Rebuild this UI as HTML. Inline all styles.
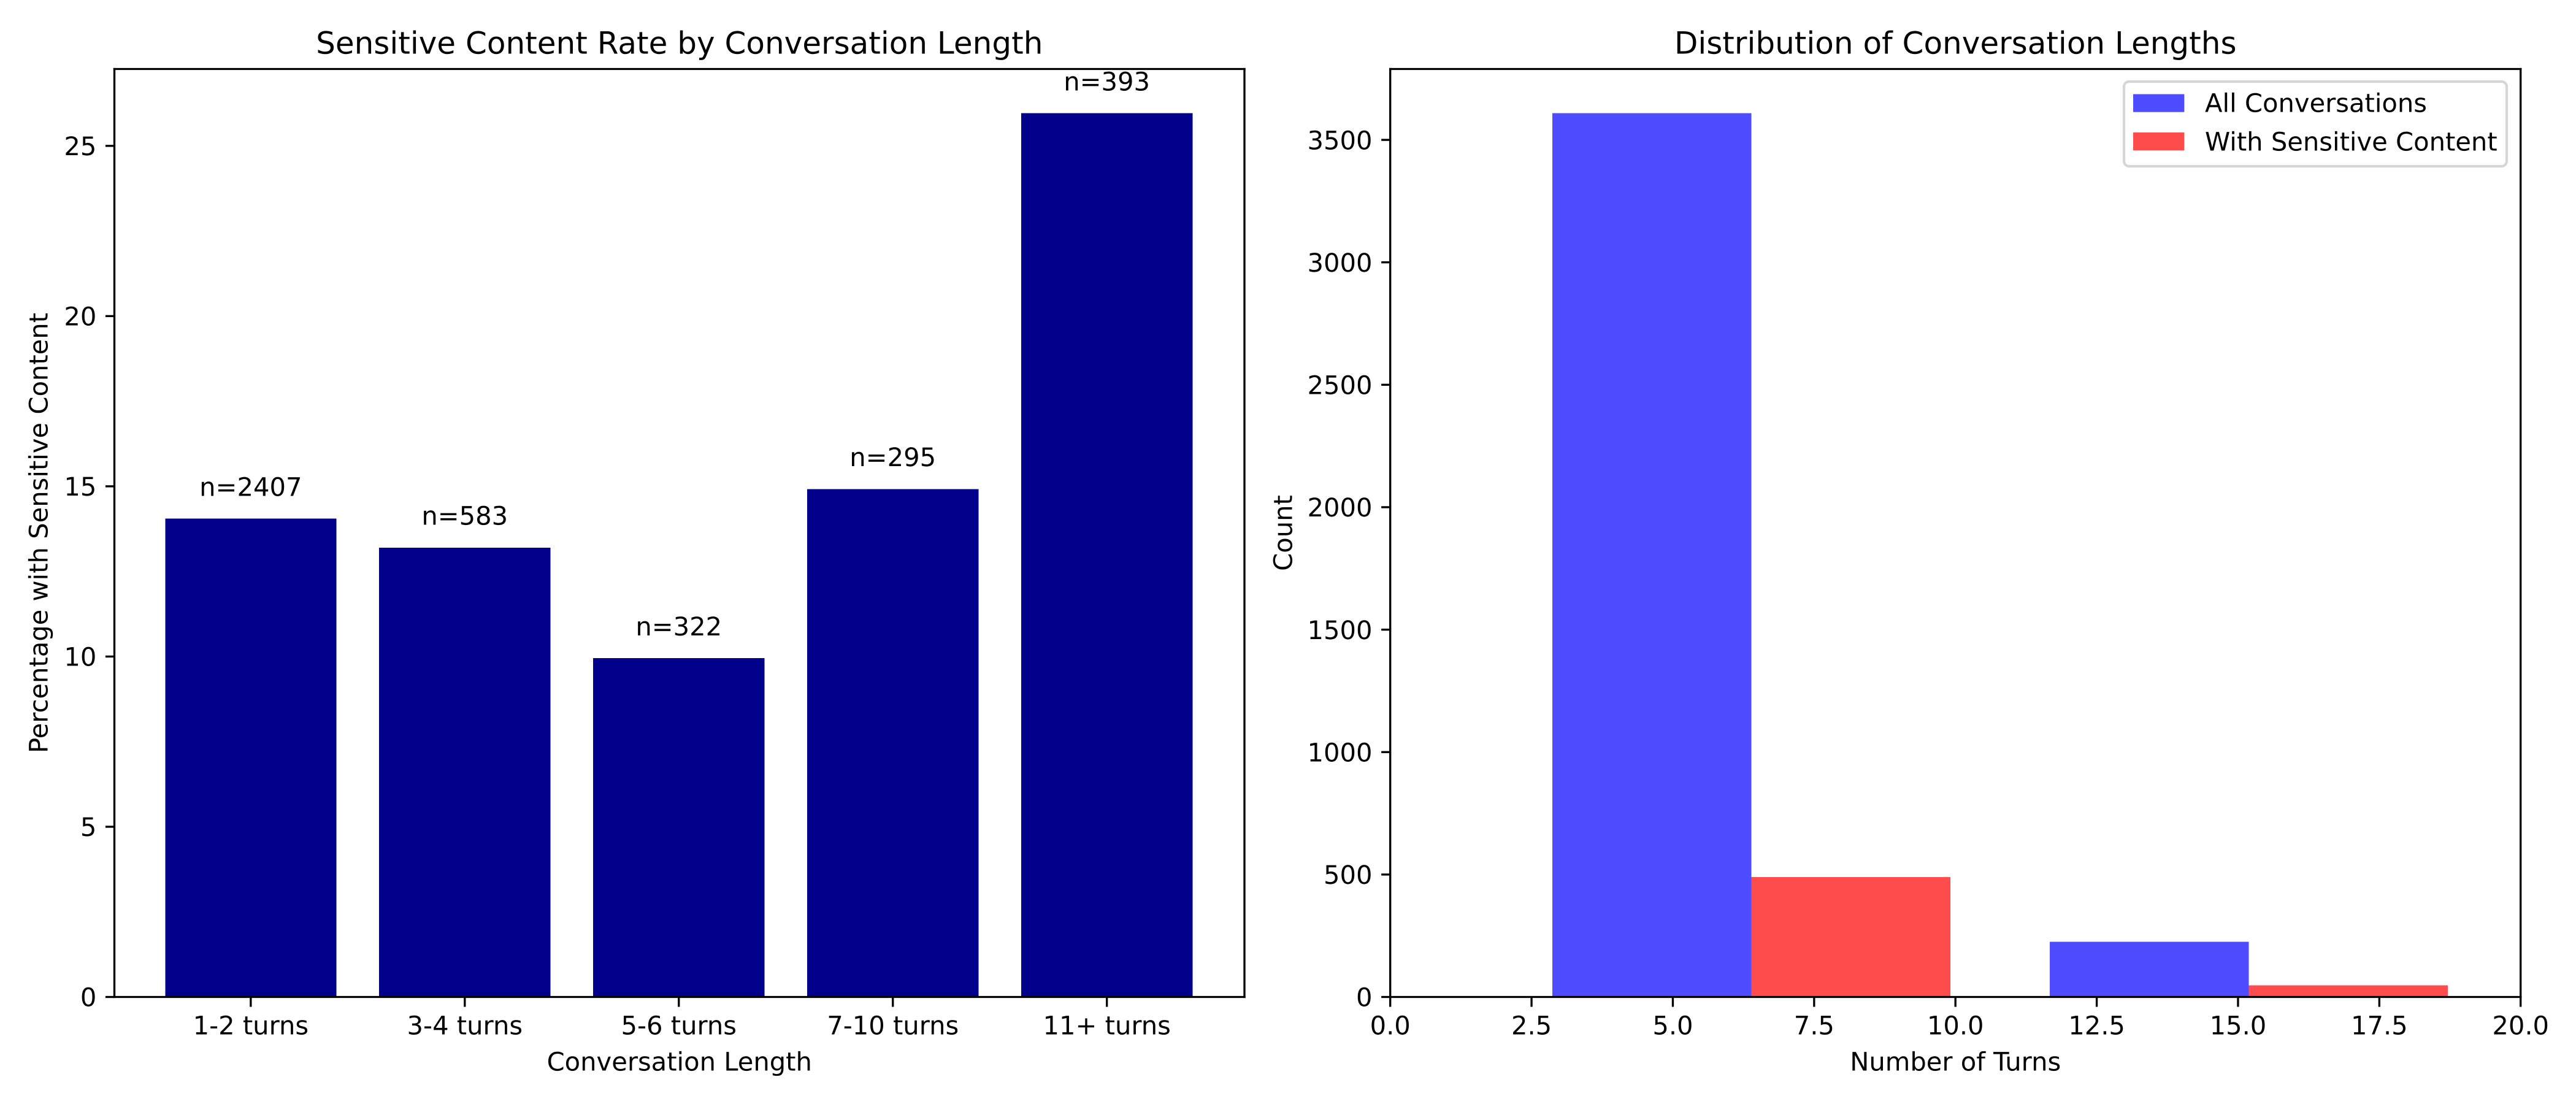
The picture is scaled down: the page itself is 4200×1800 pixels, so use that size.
<!DOCTYPE html>
<html lang="en">
<head>
<meta charset="utf-8">
<title>Sensitive Content Rate and Conversation Length Distribution</title>
<style>
  html, body { margin: 0; padding: 0; background: #ffffff; }
  body { width: 4200px; height: 1800px; overflow: hidden; }
  svg { display: block; }
  text { font-family: "DejaVu Sans", "Liberation Sans", sans-serif; font-size: 41.667px; fill: #000000; text-rendering: geometricPrecision; }
  .title { font-size: 50px; }
  .bar { shape-rendering: crispEdges; }
</style>
</head>
<body>
<svg id="figure" xmlns="http://www.w3.org/2000/svg" width="4200" height="1800" viewBox="0 0 4200 1800">
  <rect x="0" y="0" width="4200" height="1800" fill="#ffffff"/>
  <g id="left-chart"></g>
  <g id="right-chart"></g>
</svg>
<script>
// ---- Left chart data ----
const rateCategories = ['1-2 turns', '3-4 turns', '5-6 turns', '7-10 turns', '11+ turns'];
const rateValues = [14.05, 13.2, 9.95, 14.92, 25.96];
const rateCounts = [2407, 583, 322, 295, 393];
const rateTicks = [0, 5, 10, 15, 20, 25];

// ---- Right chart data ----
const allBinStarts = [2.87, 11.67];
const allCounts = [3609, 225];
const sensitiveBinStarts = [6.39, 15.19];
const sensitiveCounts = [490, 48];
const binWidths = [3.52];
const turnTicks = [0, 2.5, 5, 7.5, 10, 12.5, 15, 17.5, 20];
const turnTickLabels = ['0.0', '2.5', '5.0', '7.5', '10.0', '12.5', '15.0', '17.5', '20.0'];
const countTicks = [0, 500, 1000, 1500, 2000, 2500, 3000, 3500];

// ---- Layout ----
const NS = 'http://www.w3.org/2000/svg';
const plotTop = 112.5, plotBottom = 1625.5;
const leftX0 = 186.5, leftX1 = 2029;
const leftMapX0 = 185.5, leftMapX1 = 2028;
const rightX0 = 2266.7, rightX1 = 4109.7;
const SPINE = 3.33, TICK = 14.58, PAD = 14.58;
const NAVY = '#00008b', BLUE = '#4d4dff', RED = '#ff4d4d';

const rateMax = Math.max(...rateValues) * 1.05;
const countMax = Math.max(...allCounts, ...sensitiveCounts) * 1.05;
const barMin = -0.4, barMax = rateCategories.length - 1 + 0.4;
const barMargin = (barMax - barMin) * 0.05;

function xLeft(v) { return leftMapX0 + (v - (barMin - barMargin)) / ((barMax - barMin) + 2 * barMargin) * (leftMapX1 - leftMapX0); }
function yLeft(v) { return plotBottom - v / rateMax * (plotBottom - plotTop); }
function xRight(v) { return rightX0 + v / 20 * (rightX1 - rightX0); }
function yRight(v) { return plotBottom - v / countMax * (plotBottom - plotTop); }

function mk(parent, tag, attrs, text) {
  const el = document.createElementNS(NS, tag);
  for (const k in attrs) el.setAttribute(k, attrs[k]);
  if (text !== undefined) el.textContent = text;
  parent.appendChild(el);
  return el;
}
function hLine(parent, x1, x2, y) {
  return mk(parent, 'line', { x1: x1, x2: x2, y1: y, y2: y, stroke: '#000', 'stroke-width': SPINE });
}
function vLine(parent, x, y1, y2) {
  return mk(parent, 'line', { x1: x, x2: x, y1: y1, y2: y2, stroke: '#000', 'stroke-width': SPINE });
}
function drawFrame(parent, x0, x1) {
  const half = SPINE / 2;
  let el;
  el = vLine(parent, x0, plotTop - half, plotBottom + half);
  
  
  el = vLine(parent, x1, plotTop - half, plotBottom + half);
  
  
  el = hLine(parent, x0 - half, x1 + half, plotTop);
  
  
  el = hLine(parent, x0 - half, x1 + half, plotBottom);
  
  
}
function drawYTick(parent, x0, y, label) {
  let el = hLine(parent, x0 - TICK, x0, y);
  
  
  el = mk(parent, 'text', { x: x0 - TICK - PAD, y: y + 15.2, 'text-anchor': 'end' }, label);
  
  
}
function drawXTick(parent, x, label) {
  let el = vLine(parent, x, plotBottom, plotBottom + TICK + 1.5);
  
  
  el = mk(parent, 'text', { x: x, y: 1686.5, 'text-anchor': 'middle' }, label);
  
  
}

// ---- Left chart ----
const left = document.getElementById('left-chart');
rateValues.forEach(function (v, i) {
  const bar = mk(left, 'rect', {
    class: 'bar',
    x: xLeft(i - 0.4), y: yLeft(v),
    width: xLeft(i + 0.4) - xLeft(i - 0.4), height: yLeft(0) - yLeft(v),
    fill: NAVY
  });
  
  
  const lab = mk(left, 'text', { x: xLeft(i), y: yLeft(v + 0.5) - 9.4, 'text-anchor': 'middle' }, 'n=' + rateCounts[i]);
  
  
});
drawFrame(left, leftX0, leftX1);
rateTicks.forEach(function (t) { drawYTick(left, leftX0, yLeft(t), String(t)); });
rateCategories.forEach(function (c, i) { drawXTick(left, xLeft(i), c); });

const leftCenter = (leftX0 + leftX1) / 2;
const plotMiddle = (plotTop + plotBottom) / 2;
const leftTitle = mk(left, 'text', { class: 'title', x: leftCenter, y: 87.3, 'text-anchor': 'middle' }, 'Sensitive Content Rate by Conversation Length');


const leftXLabel = mk(left, 'text', { x: leftCenter, y: 1745.5, 'text-anchor': 'middle' }, 'Conversation Length');


const leftYLabel = mk(left, 'text', { x: 0, y: 0, 'text-anchor': 'middle', transform: 'translate(77.5 ' + plotMiddle + ') rotate(-90)' }, 'Percentage with Sensitive Content');



// ---- Right chart ----
const right = document.getElementById('right-chart');
allCounts.forEach(function (v, i) {
  const bar = mk(right, 'rect', {
    class: 'bar',
    x: xRight(allBinStarts[i]), y: yRight(v),
    width: xRight(allBinStarts[i] + binWidths[0]) - xRight(allBinStarts[i]), height: yRight(0) - yRight(v),
    fill: BLUE
  });
  
  
});
sensitiveCounts.forEach(function (v, i) {
  const bar = mk(right, 'rect', {
    class: 'bar',
    x: xRight(sensitiveBinStarts[i]), y: yRight(v),
    width: xRight(sensitiveBinStarts[i] + binWidths[0]) - xRight(sensitiveBinStarts[i]), height: yRight(0) - yRight(v),
    fill: RED
  });
  
  
});
drawFrame(right, rightX0, rightX1);
countTicks.forEach(function (t) { drawYTick(right, rightX0, yRight(t), String(t)); });
turnTicks.forEach(function (t, i) { drawXTick(right, xRight(t), turnTickLabels[i]); });

const rightCenter = (rightX0 + rightX1) / 2;
const rightTitle = mk(right, 'text', { class: 'title', x: rightCenter, y: 87.3, 'text-anchor': 'middle' }, 'Distribution of Conversation Lengths');


const rightXLabel = mk(right, 'text', { x: rightCenter, y: 1745.5, 'text-anchor': 'middle' }, 'Number of Turns');


const rightYLabel = mk(right, 'text', { x: 0, y: 0, 'text-anchor': 'middle', transform: 'translate(2106.7 ' + plotMiddle + ') rotate(-90)' }, 'Count');



// ---- Legend ----
const legend = mk(right, 'g', {});


const legendBox = mk(legend, 'rect', { x: 3463, y: 133, width: 624, height: 138, rx: 8.33, ry: 8.33, fill: '#ffffff', 'fill-opacity': 0.8, stroke: '#d6d6d6', 'stroke-width': 4.17 });


const swatchAll = mk(legend, 'rect', { x: 3478, y: 153.5, width: 83.33, height: 29.17, fill: BLUE });


const labelAll = mk(legend, 'text', { x: 3595, y: 182.7 }, 'All Conversations');


const swatchSensitive = mk(legend, 'rect', { x: 3478, y: 216, width: 83.33, height: 29.17, fill: RED });


const labelSensitive = mk(legend, 'text', { x: 3595, y: 245.3 }, 'With Sensitive Content');


</script>
</body>
</html>
